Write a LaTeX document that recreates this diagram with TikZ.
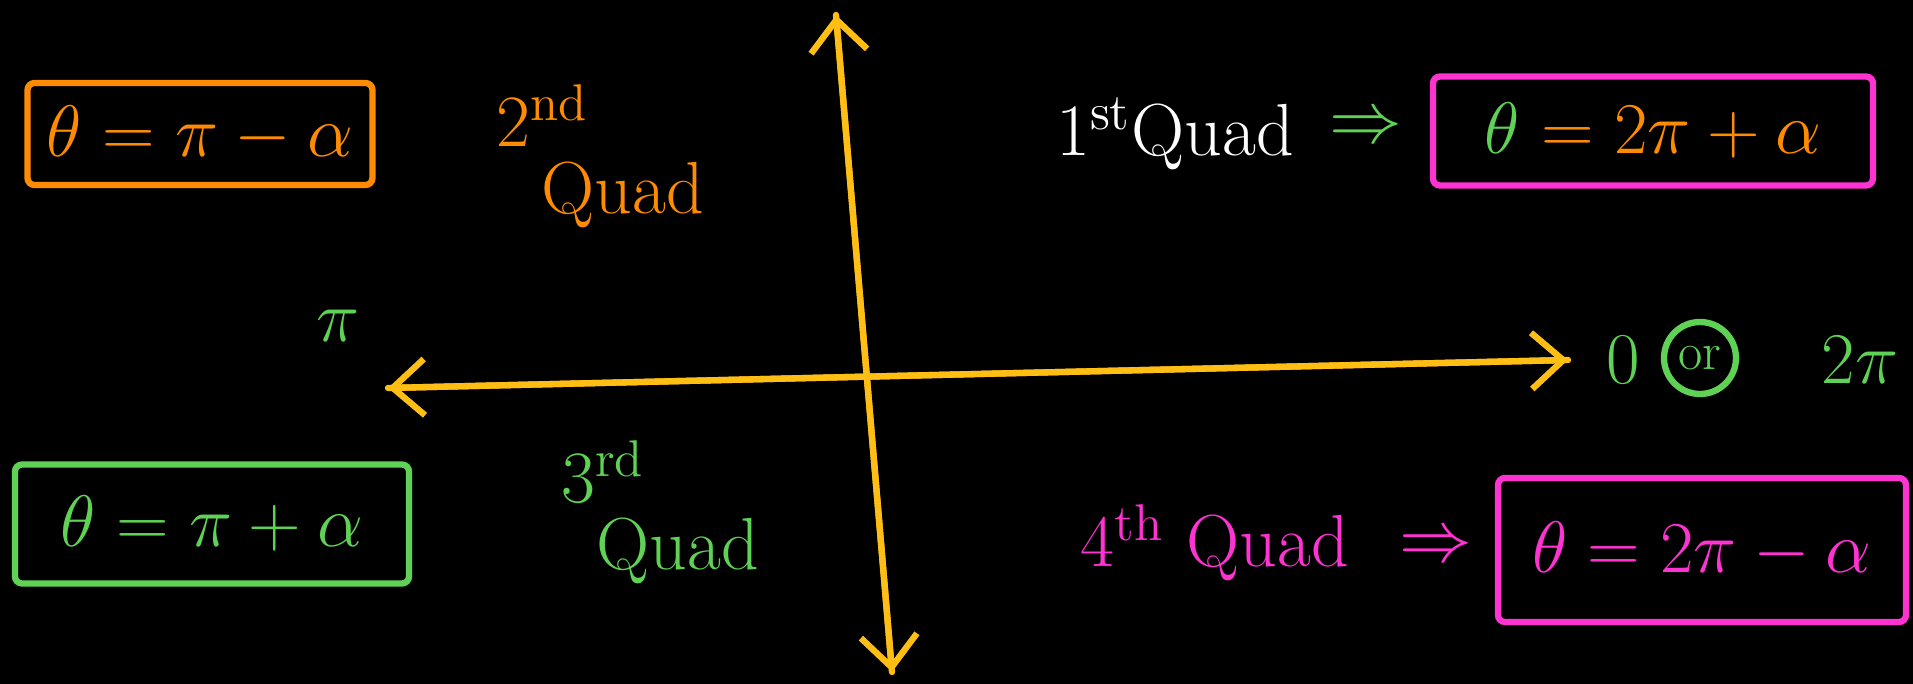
\documentclass[tikz,border=0pt]{standalone}
\usepackage{amsmath, amssymb}
\usepackage{tikz}
\usetikzlibrary{arrows.meta, positioning, calc}

\definecolor{axisyellow}{RGB}{255,190,20}
\definecolor{quadorange}{RGB}{255,140,0}
\definecolor{quadgreen}{RGB}{95,210,85}
\definecolor{quadpink}{RGB}{255,50,210}

\begin{document}
\begin{tikzpicture}[
    font=\fontsize{21}{25}\selectfont,
    axisline/.style={line width=1.8pt, axisyellow, line cap=round,
      -{Straight Barb[length=9pt, width=16pt, line width=1.8pt]}},
    anglebox/.style={draw, line width=1.8pt, rounded corners=2pt, inner sep=4pt},
    quadlabel/.style={align=left, inner sep=1pt}
  ]
  \useasboundingbox (0,0) rectangle (19.13,6.84);
  \fill[black] (0,0) rectangle (19.13,6.84);

  % axes
  \coordinate (ytop) at (8.36,6.69);
  \coordinate (ybot) at (8.92,0.12);
  \coordinate (xleft) at (3.88,2.96);
  \coordinate (xright) at (15.68,3.24);
  \draw[axisline] (ybot) -- (ytop);
  \draw[axisline] (ytop) -- (ybot);
  \draw[axisline] (xright) -- (xleft);
  \draw[axisline] (xleft) -- (xright);

  % axis labels
  \node[quadgreen] (pi) at (3.38,3.58) {$\pi$};
  \node[quadgreen] (zero) at (16.23,3.24) {$0$};
  \node[quadgreen, draw, circle, line width=1.8pt, inner sep=1pt, minimum size=0.72cm] (or) at (17.0,3.26) {\fontsize{15}{17}\selectfont or};
  \node[quadgreen] (twopi) at (18.6,3.24) {$2\pi$};

  % 2nd quadrant
  \node[anglebox, quadorange, minimum width=3.45cm, minimum height=1.02cm] (box2) at (2.0,5.50) {$\theta = \pi - \alpha$};
  \node[quadlabel, quadorange] (q2) at (6.0,5.28) {2\textsuperscript{nd}\\[-6pt]\hspace{0.45cm}Quad};

  % 1st quadrant
  \node[white] (q1) at (11.75,5.50) {1\textsuperscript{st}Quad};
  \node[quadgreen] (imp1) at (13.66,5.55) {$\Rightarrow$};
  \node[anglebox, quadpink, minimum width=4.4cm, minimum height=1.09cm] (box1) at (16.53,5.53)
    {\textcolor{quadgreen}{$\theta$} \textcolor{quadorange}{$= 2\pi + \alpha$}};

  % 3rd quadrant
  \node[anglebox, quadgreen, minimum width=3.94cm, minimum height=1.19cm] (box3) at (2.12,1.60) {$\theta = \pi + \alpha$};
  \node[quadlabel, quadgreen] (q3) at (6.6,1.72) {3\textsuperscript{rd}\\[-6pt]\hspace{0.35cm}Quad};

  % 4th quadrant
  \node[quadpink] (q4) at (12.15,1.41) {4\textsuperscript{th} Quad};
  \node[quadpink] (imp4) at (14.36,1.36) {$\Rightarrow$};
  \node[anglebox, quadpink, minimum width=4.08cm, minimum height=1.44cm] (box4) at (17.02,1.34) {$\theta = 2\pi - \alpha$};
\end{tikzpicture}
\end{document}
